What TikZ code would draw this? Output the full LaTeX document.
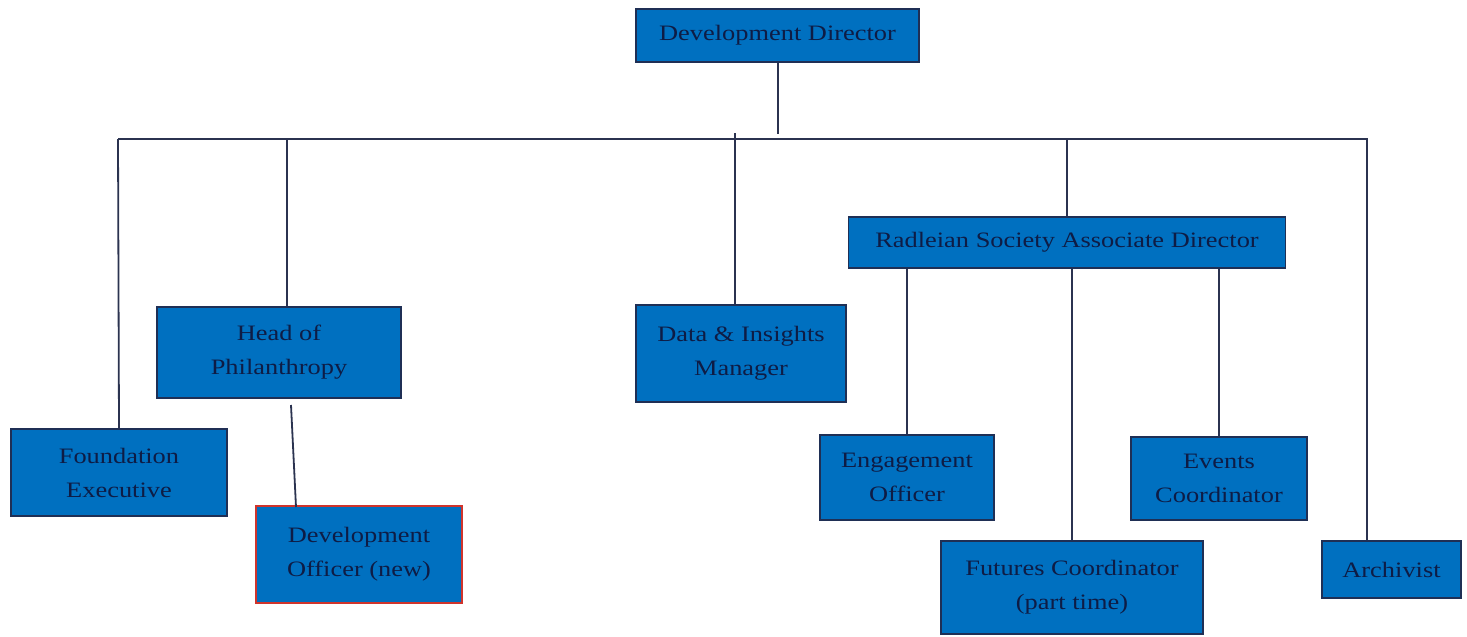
\documentclass[tikz,border=0pt]{standalone}
\usepackage{fontspec}
\setmainfont{Liberation Serif}[FakeStretch=1.2]
\definecolor{boxfill}{HTML}{0070C0}
\definecolor{boxline}{HTML}{1F2F55}
\definecolor{boxtext}{HTML}{0E1C45}
\definecolor{conn}{HTML}{2B3350}
\definecolor{newred}{HTML}{D0342C}
\tikzset{
  box/.style={draw=boxline, fill=boxfill, line width=1.6pt, text=boxtext, align=center,
    inner sep=0pt, font=\fontsize{22}{34}\selectfont},
  newbox/.style={box, draw=newred},
  link/.style={draw=conn, line width=1.8pt},
}
\begin{document}
\begin{tikzpicture}[x=1pt,y=-1pt]
\useasboundingbox (0,0) rectangle (1467,637);
\node[box, minimum width=283pt, minimum height=53pt] (dd) at (777.5,35.5) {Development Director};
\node[box, minimum width=244pt, minimum height=91pt] (hp) at (279,352.5) {Head of\\Philanthropy};
\node[box, minimum width=216pt, minimum height=87pt] (fe) at (119,472.5) {Foundation\\Executive};
\node[newbox, minimum width=206pt, minimum height=97pt] (do) at (359,554.5) {Development\\Officer (new)};
\node[box, minimum width=210pt, minimum height=97pt] (dim) at (741,353.5) {Data \& Insights\\Manager};
\node[box, minimum width=437pt, minimum height=51pt] (rs) at (1067,242.5) {Radleian Society Associate Director};
\node[box, minimum width=174pt, minimum height=85pt] (eo) at (907,477.5) {Engagement\\Officer};
\node[box, minimum width=262pt, minimum height=93pt] (fc) at (1072,587.5) {Futures Coordinator\\(part time)};
\node[box, minimum width=176pt, minimum height=83pt] (ec) at (1219,478.5) {Events\\Coordinator};
\node[box, minimum width=139pt, minimum height=57pt] (ar) at (1391.5,569.5) {Archivist};
% trunk coordinates
\coordinate (tl) at (118,139);
\coordinate (tr) at (1368,139);
\coordinate (tdd) at (778,134);
\coordinate (thp) at (287,139);
\coordinate (tdi) at (735,133);
\coordinate (tar) at (1367,139);
\coordinate (hpb) at (291,405);
\coordinate (dot) at (296,507);
\draw[link] (tl) -- (tr);
\draw[link] (dd.south -| tdd) -- (tdd);
\draw[link] (tl) -- (fe.north);
\draw[link] (thp) -- (hp.north -| thp);
\draw[link] (hpb) -- (dot);
\draw[link] (tdi) -- (dim.north -| tdi);
\draw[link] (rs.north |- tl) -- (rs.north);
\draw[link] (tar) -- (ar.north -| tar);
\draw[link] (rs.south -| eo.north) -- (eo.north);
\draw[link] (rs.south -| fc.north) -- (fc.north);
\draw[link] (rs.south -| ec.north) -- (ec.north);
\end{tikzpicture}
\end{document}
